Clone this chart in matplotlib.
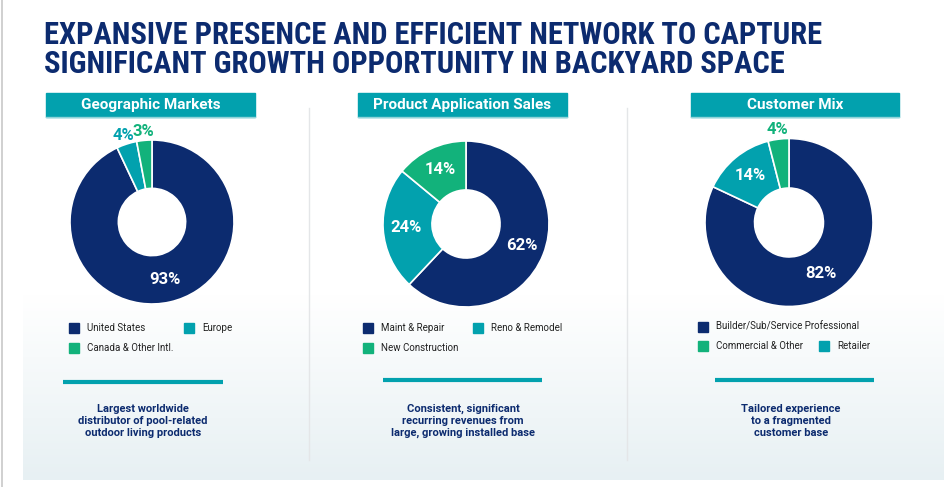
import matplotlib.pyplot as plt
import numpy as np
from matplotlib.patches import Rectangle
from matplotlib.colors import LinearSegmentedColormap

W, H = 953, 487

NAVY = '#0c2b6f'
TEAL = '#02a1ae'
GREEN = '#12b27b'

plt.rcParams['font.family'] = 'Roboto'

title_lines = ["EXPANSIVE PRESENCE AND EFFICIENT NETWORK TO CAPTURE",
               "SIGNIFICANT GROWTH OPPORTUNITY IN BACKYARD SPACE"]

headers = ["Geographic Markets", "Product Application Sales", "Customer Mix"]

# slices in clockwise order from 12 o'clock
geo_labels = ["United States", "Europe", "Canada & Other Intl."]
geo_values = [93, 4, 3]
app_labels = ["Maint & Repair", "Reno & Remodel", "New Construction"]
app_values = [62, 24, 14]
mix_labels = ["Builder/Sub/Service Professional", "Retailer", "Commercial & Other"]
mix_values = [82, 14, 4]
slice_colors = [NAVY, TEAL, GREEN]

# legend rows (indices into the label lists)
geo_legend = [[0, 1], [2]]
app_legend = [[0, 1], [2]]
mix_legend = [[0], [2, 1]]

captions = ["Largest worldwide\ndistributor of pool-related\noutdoor living products",
            "Consistent, significant\nrecurring revenues from\nlarge, growing installed base",
            "Tailored experience\nto a fragmented\ncustomer base"]

panels = [
    dict(cx=152, cy=222, r=82, box=(46, 255), cols=(69, 184), rows=(328, 348),
         rule=(63, 223, 382), cap_x=143),
    dict(cx=466, cy=224, r=83, box=(358, 567), cols=(363, 473), rows=(328, 348),
         rule=(383, 542, 380), cap_x=463),
    dict(cx=789, cy=222.5, r=84, box=(691, 899), cols=(698, 819), rows=(327, 346),
         rule=(715, 874, 380), cap_x=791),
]

fig = plt.figure(figsize=(W / 100, H / 100), dpi=100)
bg = fig.add_axes([0, 0, 1, 1])
bg.set_xlim(0, W)
bg.set_ylim(H, 0)
bg.axis('off')

# background gradient panel
cmap = LinearSegmentedColormap.from_list('bgpanel', ['#ffffff', '#e7f0f3'])
grad = np.linspace(0, 1, 256).reshape(-1, 1)
bg.imshow(grad, cmap=cmap, extent=(23, 944, 480, 295), aspect='auto', zorder=0)
bg.plot([2.5, 2.5], [0, H], color='#c8c8c8', lw=1.2)
for sx in (309, 627):
    bg.plot([sx, sx], [108, 460], color='#e4e6e8', lw=1)

# title
title_font = ['Roboto Condensed', 'Liberation Sans Narrow', 'Roboto']
for line, y in zip(title_lines, (44, 73)):
    bg.text(44, y, line, family=title_font, fontsize=22, fontweight='bold',
            color=NAVY, va='baseline', ha='left')

datasets = [(geo_labels, geo_values, geo_legend),
            (app_labels, app_values, app_legend),
            (mix_labels, mix_values, mix_legend)]

for p, head, cap, (labels, values, legend_rows) in zip(panels, headers, captions, datasets):
    # header box
    x0, x1 = p['box']
    bg.add_patch(Rectangle((x0, 93), x1 - x0, 24, color=TEAL, zorder=2))
    bg.plot([x0, x1], [116.5, 116.5], color='#8fd3d8', lw=1, zorder=3)
    bg.text((x0 + x1) / 2, 105, head, color='white', fontsize=11,
            fontweight='bold', ha='center', va='center', zorder=4)

    # donut
    r = p['r']
    ax = fig.add_axes([(p['cx'] - r) / W, (H - p['cy'] - r) / H, 2 * r / W, 2 * r / H])
    wedges, _ = ax.pie(values, colors=slice_colors, startangle=90, counterclock=False,
                       wedgeprops=dict(width=0.59, edgecolor='white', linewidth=1.2))
    ax.set_xlim(-1, 1)
    ax.set_ylim(-1, 1)
    ax.axis('off')
    for w, v, c in zip(wedges, values, slice_colors):
        w.set_clip_on(False)
        mid = np.deg2rad((w.theta1 + w.theta2) / 2)
        if v < 5:
            d, tc = 1.11, c
        else:
            d, tc = 0.72, 'white'
        ax.text(d * np.cos(mid), d * np.sin(mid), f"{v}%", color=tc, fontsize=12,
                fontweight='bold', ha='center', va='center', clip_on=False)

    # legend
    for row_y, row in zip(p['rows'], legend_rows):
        for mx, idx in zip(p['cols'], row):
            bg.add_patch(Rectangle((mx, row_y - 5), 10, 10, color=slice_colors[idx], zorder=3))
            bg.text(mx + 18, row_y, labels[idx], fontsize=7, color='#222222',
                    ha='left', va='center', zorder=3)

    # rule and caption
    rx0, rx1, ry = p['rule']
    bg.plot([rx0, rx1], [ry, ry], color=TEAL, lw=3, solid_capstyle='butt', zorder=3)
    bg.text(p['cap_x'], 421, cap, color=NAVY, fontsize=8, fontweight='bold',
            ha='center', va='center', multialignment='center', linespacing=1.25, zorder=3)

fig.savefig('out.png', dpi=100)
